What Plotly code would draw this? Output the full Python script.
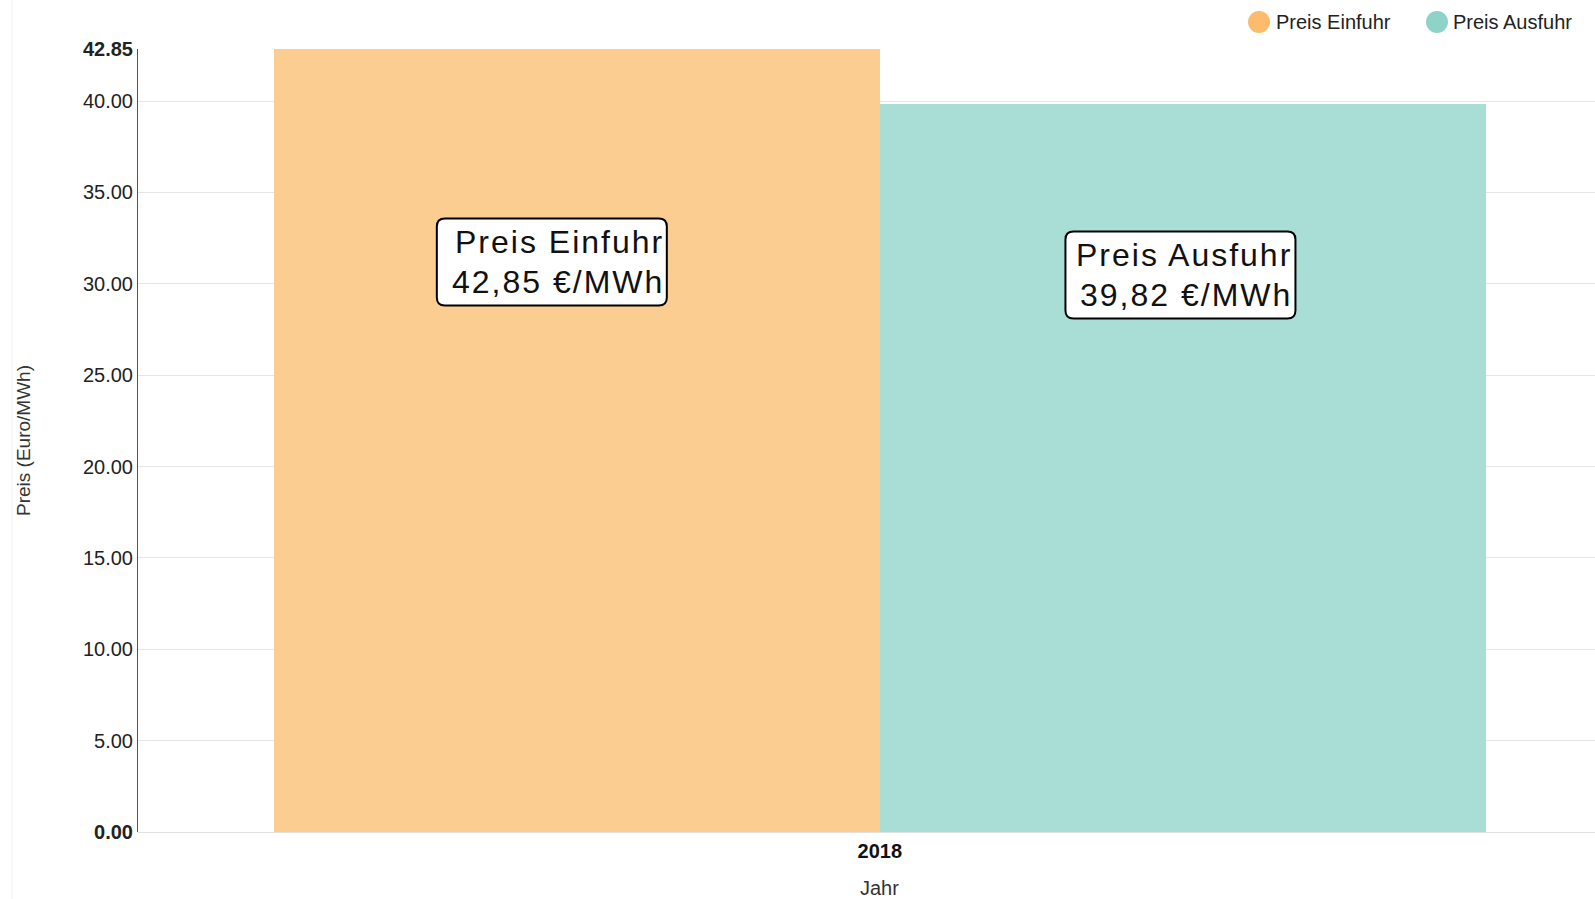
import plotly.graph_objects as go

years = ["2018"]
series_names = ["Preis Einfuhr", "Preis Ausfuhr"]
series_values = [42.85, 39.82]
bar_colors = ["rgb(251,205,145)", "rgb(168,222,214)"]
legend_colors = ["#fdbb6c", "#8dd3c7"]
label_lines = [["Preis Einfuhr", "42,85 €/MWh"], ["Preis Ausfuhr", "39,82 €/MWh"]]
ytick_vals = [0, 5, 10, 15, 20, 25, 30, 35, 40, 42.85]
ytick_text = ["<b>0.00</b>", "5.00", "10.00", "15.00", "20.00", "25.00", "30.00", "35.00", "40.00", "<b>42.85</b>"]

FONT = "Liberation Sans, Arial, sans-serif"

W, H = 1595, 899
ML, MR, MT, MB = 138, 0, 49, 67
PW, PH = W - ML - MR, H - MT - MB


def px_x(p):
    return (p - ML) / PW


def px_y(p):
    return (H - MB - p) / PH


fig = go.Figure()
for i, (name, val) in enumerate(zip(series_names, series_values)):
    fig.add_trace(go.Bar(
        x=[0], y=[val], name=name, marker=dict(color=bar_colors[i], line=dict(width=0)),
        showlegend=False, offsetgroup=str(i), hoverinfo="skip",
    ))

# label boxes (rounded) + right-aligned, letter-spaced text
ann_x = [-0.2706, 0.248]
ann_y = [31.19, 30.48]
box_w, box_h, r = 230, 87, 8


def rounded_path(w, h, r):
    x0, x1, y0, y1 = -w / 2, w / 2, -h / 2, h / 2
    return (f"M {x0 + r},{y0} L {x1 - r},{y0} Q {x1},{y0} {x1},{y0 + r} "
            f"L {x1},{y1 - r} Q {x1},{y1} {x1 - r},{y1} L {x0 + r},{y1} "
            f"Q {x0},{y1} {x0},{y1 - r} L {x0},{y0 + r} Q {x0},{y0} {x0 + r},{y0} Z")


for i, lines in enumerate(label_lines):
    fig.add_shape(
        type="path", xref="x", yref="y", xsizemode="pixel", ysizemode="pixel",
        xanchor=ann_x[i], yanchor=ann_y[i], path=rounded_path(box_w, box_h, r),
        fillcolor="white", line=dict(color="black", width=2), layer="above",
    )
    for j, line in enumerate(lines):
        fig.add_annotation(
            x=ann_x[i], y=ann_y[i], xref="x", yref="y",
            text=f'<span style="letter-spacing:2px">{line}</span>',
            showarrow=False, xanchor="right", yanchor="middle",
            xshift=box_w / 2 - 1, yshift=(20 if j == 0 else -20),
            font=dict(family=FONT, size=32, color="#111"), align="right",
        )

# legend with circle symbols
leg_circle_x = [1259, 1437]
leg_text_x = [1274, 1451]
leg_y = 22
for i, name in enumerate(series_names):
    fig.add_shape(
        type="circle", xref="paper", yref="paper", xsizemode="pixel", ysizemode="pixel",
        xanchor=px_x(leg_circle_x[i]), yanchor=px_y(leg_y),
        x0=-11, x1=11, y0=-11, y1=11, fillcolor=legend_colors[i], line=dict(width=0),
    )
    fig.add_annotation(
        x=px_x(leg_text_x[i]), y=px_y(leg_y), xref="paper", yref="paper",
        xanchor="left", yanchor="middle", text=name, showarrow=False,
        font=dict(family=FONT, size=20, color="#222"),
    )

fig.add_annotation(
    x=px_x(23), y=px_y(441), xref="paper", yref="paper", text="Preis (Euro/MWh)",
    xanchor="center", yanchor="middle",
    textangle=-90, showarrow=False, font=dict(family=FONT, size=19, color="#333"),
)
fig.add_annotation(
    x=0, y=px_y(888), xref="x", yref="paper", yanchor="middle", text="Jahr",
    showarrow=False, font=dict(family=FONT, size=20, color="#333"),
)

fig.add_shape(type="line", xref="paper", yref="paper", x0=px_x(12), x1=px_x(12),
              y0=px_y(H), y1=px_y(0), line=dict(color="#f0f0f0", width=1))

fig.update_layout(
    width=W, height=H,
    margin=dict(l=ML, r=MR, t=MT, b=MB, autoexpand=False),
    plot_bgcolor="white", paper_bgcolor="white",
    barmode="group", bargap=0, bargroupgap=0,
    font=dict(family=FONT, size=20, color="#222"),
    showlegend=False,
    xaxis=dict(range=[-0.612, 0.59], tickvals=[0], ticktext=["<b>2018</b>"],
               showgrid=False, zeroline=False, showline=False, ticklabelstandoff=5,
               tickfont=dict(family=FONT, size=20, color="#111"), ticks="", ticklen=0),
    yaxis=dict(range=[0, 42.85], tickvals=ytick_vals, ticktext=ytick_text,
               showgrid=True, gridcolor="#e6e6e6", gridwidth=1,
               zeroline=True, zerolinecolor="#e0e0e0", zerolinewidth=1,
               showline=True, linecolor="#555", linewidth=1,
               ticks="", tickfont=dict(family=FONT, size=20, color="#222")),
)

fig.write_html(
    "out.html",
    config={"displayModeBar": False},
    post_script="document.body.style.margin='0';document.body.style.overflow='hidden';",
)
